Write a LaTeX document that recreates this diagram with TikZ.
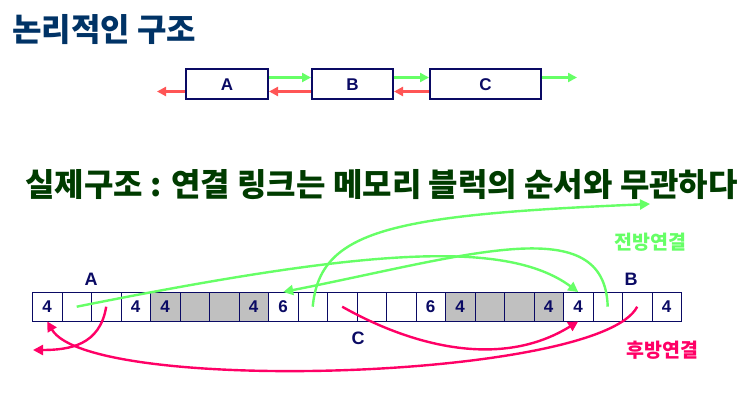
\documentclass[tikz,border=0pt]{standalone}
\usepackage{fontspec}
\setmainfont{Liberation Sans}
\newfontfamily\kr{Noto Sans CJK KR}
\usetikzlibrary{arrows.meta}
\definecolor{navy}{RGB}{10,10,100}
\definecolor{titleblue}{RGB}{0,51,102}
\definecolor{subgreen}{RGB}{0,60,0}
\definecolor{lgreen}{RGB}{102,255,102}
\definecolor{lred}{RGB}{255,85,85}
\definecolor{hotpink}{RGB}{255,0,102}
\definecolor{cellgray}{RGB}{192,192,192}
\tikzset{
  topbox/.style={draw=navy,line width=2pt,minimum height=30pt,inner sep=0pt,
    text=navy,font=\bfseries\fontsize{17}{17}\selectfont},
  cellbox/.style={draw=navy,line width=0.9pt,minimum width=29.5pt,minimum height=28.5pt,
    inner sep=0pt,anchor=north west,text=navy,font=\bfseries\fontsize{17}{17}\selectfont},
  blklabel/.style={text=navy,font=\bfseries\fontsize{18}{18}\selectfont},
  garrow/.style={draw=lgreen,line width=2.2pt,-{Triangle[length=9pt,width=9pt]}},
  rarrow/.style={draw=lred,line width=2.2pt,-{Triangle[length=9pt,width=9pt]}},
  glink/.style={draw=lgreen,line width=2.4pt,-{Triangle[length=10pt,width=10pt]}},
  plink/.style={draw=hotpink,line width=2.4pt,-{Triangle[length=10pt,width=10pt]}},
}
\begin{document}
\begin{tikzpicture}[x=1pt,y=-1pt]
\useasboundingbox[fill=white] (0,0) rectangle (751,409);
% titles
\node[anchor=west,text=titleblue,inner sep=0pt,font=\kr\bfseries\fontsize{32}{32}\selectfont] (title) at (12,30) {논리적인 구조};
\node[anchor=west,text=subgreen,inner sep=0pt,font=\kr\bfseries\fontsize{32}{32}\selectfont] (sub) at (25,185) {실제구조 : 연결 링크는 메모리 블럭의 순서와 무관하다};
% logical structure
\node[topbox,minimum width=82pt] (A) at (227,84.5) {A};
\node[topbox,minimum width=81pt] (B) at (352.5,84.5) {B};
\node[topbox,minimum width=111pt] (C) at (485.5,84.5) {C};
\coordinate (gend) at (577,77.5);
\coordinate (rend) at (157,91.5);
\draw[garrow] ([yshift=7pt]A.east) -- ([yshift=7pt]B.west);
\draw[garrow] ([yshift=7pt]B.east) -- ([yshift=7pt]C.west);
\draw[garrow] ([yshift=7pt]C.east) -- (gend);
\draw[rarrow] ([yshift=-7pt]C.west) -- ([yshift=-7pt]B.east);
\draw[rarrow] ([yshift=-7pt]B.west) -- ([yshift=-7pt]A.east);
\draw[rarrow] ([yshift=-7pt]A.west) -- (rend);
% memory cells
\foreach \i/\t/\f in {1/4/white,2//white,3//white,4/4/white,5/4/cellgray,6//cellgray,7//cellgray,8/4/cellgray,
  9/6/white,10//white,11//white,12//white,13//white,14/6/white,15/4/cellgray,16//cellgray,17//cellgray,18/4/cellgray,
  19/4/white,20//white,21//white,22/4/white}
  \node[cellbox,fill=\f] (c\i) at ({32+(\i-1)*29.5},292) {\t};
% block labels
\node[blklabel] (la) at (91,279) {A};
\node[blklabel] (lb) at (631,279) {B};
\node[blklabel] (lc) at (358,338) {C};
\node[text=lgreen,font=\kr\bfseries\fontsize{19.5}{19.5}\selectfont] (fw) at (650.5,242) {전방연결};
\node[text=hotpink,font=\kr\bfseries\fontsize{19.5}{19.5}\selectfont] (bw) at (662.5,350) {후방연결};
% links
\coordinate (gout) at (650,204);
\coordinate (pout) at (33,350);
\draw[glink] (c2.center) .. controls (360,250) and (505,238) .. (c19.north);
\draw[glink] (c20.center) .. controls (605,210) and (470,255) .. (c9.north);
\draw[glink] (c10.center) .. controls (320,230) and (390,215) .. (gout);
\draw[plink] (c3.center) .. controls (100,345) and (70,350) .. (pout);
\draw[plink] (c21.center) .. controls (600,380) and (90,395) .. (c1.south);
\draw[plink] (c11.center) .. controls (410,345) and (500,370) .. (c19.south);
\end{tikzpicture}
\end{document}
